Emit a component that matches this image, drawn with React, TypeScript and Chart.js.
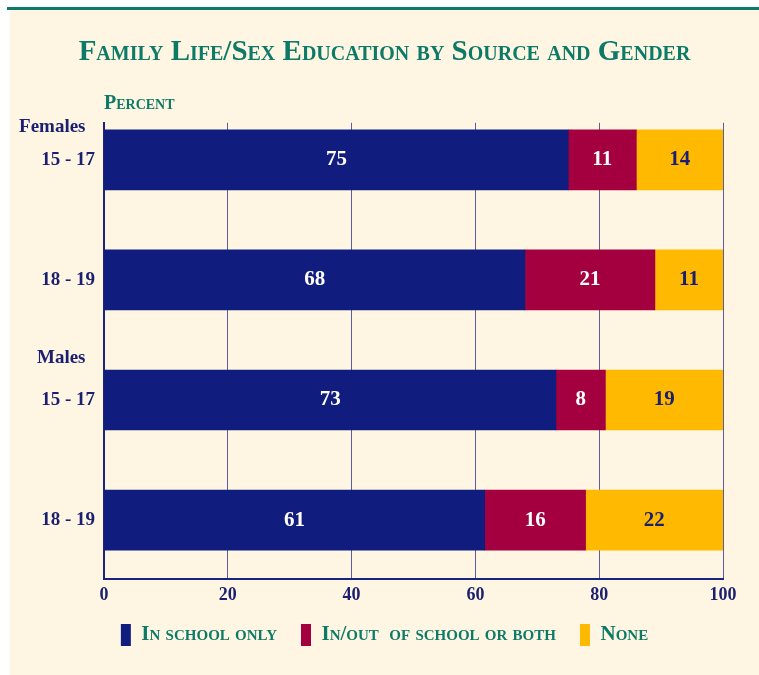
import React, { useEffect, useRef } from "react";
import { Chart, registerables } from "chart.js";

Chart.register(...registerables);

// ---- Data ----
const categories = ["Females 15 - 17", "Females 18 - 19", "Males 15 - 17", "Males 18 - 19"];
const seriesNames = ["In school only", "In/out  of school or both", "None"];
// bar lengths (percent)
const inSchoolOnly = [75, 68, 73, 61.5];
const inOutOfSchool = [11, 21, 8, 16.3];
const none = [14, 11, 19, 22.2];
// printed values on the bars
const printedInSchool = ["75", "68", "73", "61"];
const printedInOut = ["11", "21", "8", "16"];
const printedNone = ["14", "11", "19", "22"];
// y-axis tick labels
const yTickValues = [-0.275, 0, 1, 1.65, 2, 3];
const yTickLabels = ["Females  ", "15 - 17", "18 - 19", "Males  ", "15 - 17", "18 - 19"];
const xTickValues = [0, 20, 40, 60, 80, 100];

const NAVY = "#111d7e";
const MAROON = "#a4003f";
const YELLOW = "#ffb900";
const TEAL = "#0d7a68";
const CREAM = "#fef6e2";
const TEXT_NAVY = "#1b1f70";
const SERIF = "'Liberation Serif', 'Times New Roman', serif";

const backgroundPlugin = {
  id: "bgPanel",
  beforeDraw(chart: any) {
    const ctx = chart.ctx;
    ctx.save();
    ctx.fillStyle = "#ffffff";
    ctx.fillRect(0, 0, chart.width, chart.height);
    ctx.fillStyle = CREAM;
    ctx.fillRect(10, 10, chart.width - 10, chart.height - 10);
    ctx.fillStyle = "#0f7a68";
    ctx.fillRect(7, 7, chart.width - 7, 3);
    ctx.restore();
  },
};

const printed = [printedInSchool, printedInOut, printedNone];

const barLabelPlugin = {
  id: "barLabels",
  afterDatasetsDraw(chart: any) {
    const ctx = chart.ctx;
    ctx.save();
    ctx.font = `bold 21px ${SERIF}`;
    ctx.textAlign = "center";
    ctx.textBaseline = "middle";
    chart.data.datasets.forEach((ds: any, di: number) => {
      const meta = chart.getDatasetMeta(di);
      meta.data.forEach((el: any, i: number) => {
        const p = el.getProps(["x", "y", "base"], true);
        const cx = (p.x + p.base) / 2;
        ctx.fillStyle = di === 2 ? TEXT_NAVY : "#ffffff";
        ctx.fillText(printed[di][i], cx, p.y);
      });
    });
    ctx.restore();
  },
};

export default function App() {
  const ref = useRef<HTMLCanvasElement | null>(null);

  useEffect(() => {
    if (!ref.current) return;
    const mk = (vals: number[]) => vals.map((v, i) => ({ x: v, y: i }));
    const chart = new Chart(ref.current, {
      type: "bar",
      data: {
        labels: categories,
        datasets: [
          { label: seriesNames[0], data: mk(inSchoolOnly) as any, backgroundColor: NAVY, barThickness: 60 },
          { label: seriesNames[1], data: mk(inOutOfSchool) as any, backgroundColor: MAROON, barThickness: 60 },
          { label: seriesNames[2], data: mk(none) as any, backgroundColor: YELLOW, barThickness: 60 },
        ],
      },
      options: {
        indexAxis: "y",
        animation: false,
        responsive: false,
        devicePixelRatio: 1,
        layout: { padding: { left: 10, right: 0, top: 0, bottom: 19 } },
        scales: {
          x: {
            type: "linear",
            stacked: true,
            min: 0,
            max: 100,
            afterBuildTicks: (s: any) => {
              s.ticks = xTickValues.map((v) => ({ value: v }));
            },
            afterFit: (s: any) => {
              s.height = 21;
            },
            grid: { color: "#5b5f99", lineWidth: 1, drawTicks: false },
            border: { display: true, color: "#1a237e", width: 2 },
            ticks: {
              padding: 6,
              color: TEXT_NAVY,
              font: { family: SERIF, size: 18, weight: "bold" },
            },
          },
          y: {
            type: "linear",
            stacked: true,
            reverse: true,
            offset: false,
            min: -0.308,
            max: 3.49,
            afterBuildTicks: (s: any) => {
              s.ticks = yTickValues.map((v) => ({ value: v }));
            },
            afterFit: (s: any) => {
              s.width = 94;
            },
            grid: { display: false, drawTicks: false, offset: false },
            border: { display: true, color: "#1a237e", width: 2 },
            ticks: {
              autoSkip: false,
              padding: 9,
              color: TEXT_NAVY,
              font: { family: SERIF, size: 19, weight: "bold" },
              callback: (_v: any, i: number) => yTickLabels[i],
            },
          },
          y2: {
            type: "linear",
            position: "right",
            display: true,
            grid: { display: false, drawTicks: false },
            border: { display: false },
            ticks: { display: false },
            afterFit: (s: any) => {
              s.width = 36;
            },
          },
        },
        plugins: {
          title: {
            display: true,
            text: "Family Life/Sex Education by Source and Gender",
            color: TEAL,
            font: { family: SERIF, size: 29, weight: "small-caps bold" as any, lineHeight: 1.2 },
            padding: { top: 35, bottom: 21 },
          },
          subtitle: {
            display: true,
            text: "Percent",
            align: "start",
            fullSize: false,
            color: TEAL,
            font: { family: SERIF, size: 20, weight: "small-caps bold" as any, lineHeight: 1.2 },
            padding: { top: 1, bottom: 7 },
          },
          legend: {
            display: true,
            position: "bottom",
            labels: {
              boxWidth: 10,
              boxHeight: 22,
              padding: 24,
              color: TEAL,
              font: { family: SERIF, size: 21, weight: "small-caps bold" as any },
            },
          },
          tooltip: { enabled: false },
        },
      },
      plugins: [backgroundPlugin, barLabelPlugin],
    });
    return () => chart.destroy();
  }, []);

  return (
    <div style={{ position: "fixed", left: 0, top: 0, width: 759, height: 675 }}>
      <canvas ref={ref} width={759} height={675} />
    </div>
  );
}
